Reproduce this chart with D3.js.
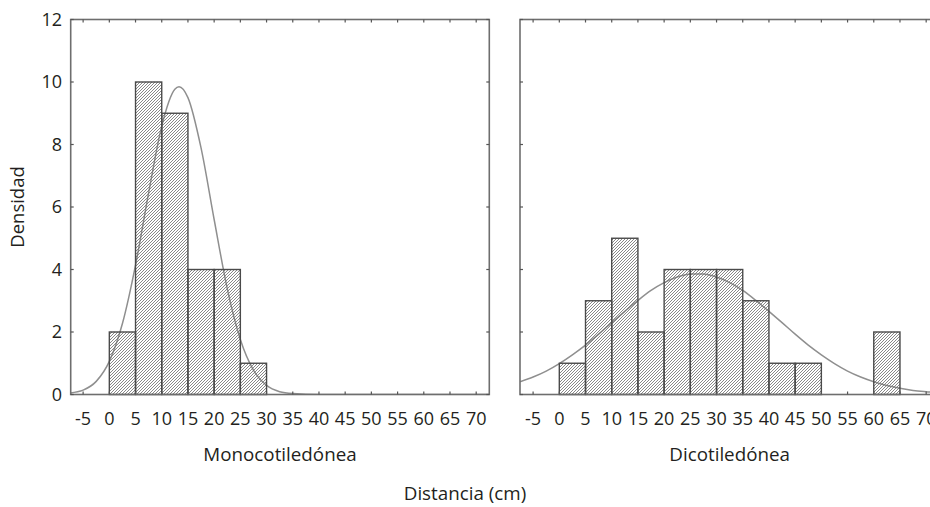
<!DOCTYPE html>
<html><head><meta charset="utf-8">
<script src="https://cdn.jsdelivr.net/npm/d3@7"></script>
<style>
html,body{margin:0;padding:0;background:#fff;overflow:hidden;}
svg{display:block;}
text{font-family:"Open Sans","Noto Sans",sans-serif;fill:#231f20;}
</style></head><body>
<svg id="chart" width="930" height="507"></svg>
<script>
// ---- data ----
const binStarts = [0, 5, 10, 15, 20, 25, 30, 35, 40, 45, 50, 55, 60];
const binWidth = 5;
const monoCounts = [2, 10, 9, 4, 4, 1, 0, 0, 0, 0, 0, 0, 0];
const dicoCounts = [1, 3, 5, 2, 4, 4, 4, 3, 1, 1, 0, 0, 2];
const xTicks = [-5, 0, 5, 10, 15, 20, 25, 30, 35, 40, 45, 50, 55, 60, 65, 70];
const yTicks = [0, 2, 4, 6, 8, 10, 12];
const monoCurveX = [-7.5, -5, -2.5, 0, 2.5, 5, 7.5, 10, 12.5, 13.3, 15, 17.5, 20, 22.5, 25, 27.5, 30, 32.5, 35, 40, 72.5];
const monoCurveY = [0.05, 0.14, 0.42, 1.06, 2.27, 4.14, 6.45, 8.59, 9.77, 9.85, 9.50, 7.89, 5.60, 3.39, 1.76, 0.78, 0.29, 0.09, 0.03, 0.0, 0.0];
const dicoCurveX = [-7.5, -5, -2.5, 0, 2.5, 5, 7.5, 10, 12.5, 15, 17.5, 20, 22.5, 25, 27.5, 30, 32.5, 35, 37.5, 40, 42.5, 45, 47.5, 50, 52.5, 55, 57.5, 60, 62.5, 65, 67.5, 70, 72.5];
const dicoCurveY = [0.41, 0.56, 0.75, 0.99, 1.27, 1.58, 1.93, 2.30, 2.66, 3.01, 3.33, 3.58, 3.76, 3.86, 3.86, 3.76, 3.58, 3.33, 3.01, 2.66, 2.30, 1.93, 1.58, 1.27, 0.99, 0.75, 0.56, 0.41, 0.29, 0.20, 0.13, 0.09, 0.06];
const panelTitles = ["Monocotiledónea", "Dicotiledónea"];
const yTitle = "Densidad";
const xTitle = "Distancia (cm)";

// ---- layout ----
const svg = d3.select("#chart");
const plotTop = 19.5, plotBottom = 394.5;
const panels = [
  {x0: 70.7, dom: [-7.37, 72.5], counts: monoCounts, cx: monoCurveX, cy: monoCurveY, title: panelTitles[0], yLabels: true},
  {x0: 520, dom: [-7.5, 72.5], counts: dicoCounts, cx: dicoCurveX, cy: dicoCurveY, title: panelTitles[1], yLabels: false}
];
const pxPerUnit = 5.241;
const y = d3.scaleLinear().domain([0, 12]).range([plotBottom, plotTop]);

const defs = svg.append("defs");
const pat = defs.append("pattern").attr("id", "hatch").attr("patternUnits", "userSpaceOnUse")
  .attr("width", 3).attr("height", 3);
pat.append("path").attr("d", "M-1,1 l2,-2 M0,3 l3,-3 M2,4 l2,-2")
  .attr("stroke", "#6a6a6a").attr("stroke-width", 0.8);

panels.forEach((p, i) => {
  const x1 = p.x0 + (p.dom[1] - p.dom[0]) * pxPerUnit;
  const x = d3.scaleLinear().domain(p.dom).range([p.x0, x1]);
  const g = svg.append("g");
  defs.append("clipPath").attr("id", "clip" + i).append("rect")
    .attr("x", p.x0).attr("y", plotTop).attr("width", x1 - p.x0).attr("height", plotBottom - plotTop);

  // curve (behind hatched bars)
  const pts = p.cx.map((v, k) => [v, p.cy[k]]);
  g.append("path").datum(pts)
    .attr("clip-path", "url(#clip" + i + ")")
    .attr("d", d3.line().x(d => x(d[0])).y(d => y(d[1])).curve(d3.curveMonotoneX))
    .attr("fill", "none").attr("stroke", "#8f8f8f").attr("stroke-width", 1.5);

  // bars
  const bins = binStarts.map((s, k) => ({s, c: p.counts[k]})).filter(d => d.c > 0);
  g.selectAll("rect.bar").data(bins).enter().append("rect")
    .attr("class", "bar")
    .attr("x", d => x(d.s)).attr("width", d => x(d.s + binWidth) - x(d.s))
    .attr("y", d => y(d.c)).attr("height", d => y(0) - y(d.c))
    .attr("fill", "url(#hatch)").attr("stroke", "#4a4a4a").attr("stroke-width", 1.4);

  // frame
  g.append("rect").attr("x", p.x0).attr("y", plotTop).attr("width", x1 - p.x0).attr("height", plotBottom - plotTop)
    .attr("fill", "none").attr("stroke", "#6e6e6e").attr("stroke-width", 1.6);

  // inward ticks
  const tk = 3;
  const tg = g.append("g").attr("stroke", "#555").attr("stroke-width", 1.2);
  xTicks.forEach(t => {
    tg.append("line").attr("x1", x(t)).attr("x2", x(t)).attr("y1", plotTop).attr("y2", plotTop + tk);
    tg.append("line").attr("x1", x(t)).attr("x2", x(t)).attr("y1", plotBottom).attr("y2", plotBottom - tk);
  });
  yTicks.forEach(t => {
    tg.append("line").attr("x1", p.x0).attr("x2", p.x0 + tk).attr("y1", y(t)).attr("y2", y(t));
    tg.append("line").attr("x1", x1).attr("x2", x1 - tk).attr("y1", y(t)).attr("y2", y(t));
  });

  // x tick labels
  g.selectAll("text.xt").data(xTicks).enter().append("text")
    .attr("class", "xt").attr("x", d => x(d)).attr("y", 425)
    .attr("text-anchor", "middle").attr("font-size", 18).text(d => d);

  if (p.yLabels) {
    g.selectAll("text.yt").data(yTicks).enter().append("text")
      .attr("class", "yt").attr("x", 62).attr("y", d => y(d)).attr("dy", "0.35em")
      .attr("text-anchor", "end").attr("font-size", 18).text(d => d);
  }

  // panel title
  g.append("text").attr("x", (p.x0 + x1) / 2).attr("y", 461)
    .attr("text-anchor", "middle").attr("font-size", 18.8).text(p.title);
});

svg.append("text").attr("transform", "translate(24," + ((plotTop + plotBottom) / 2) + ") rotate(-90)")
  .attr("text-anchor", "middle").attr("font-size", 18.5).text(yTitle);
svg.append("text").attr("x", 465).attr("y", 500)
  .attr("text-anchor", "middle").attr("font-size", 18.8).text(xTitle);
</script>
</body></html>
